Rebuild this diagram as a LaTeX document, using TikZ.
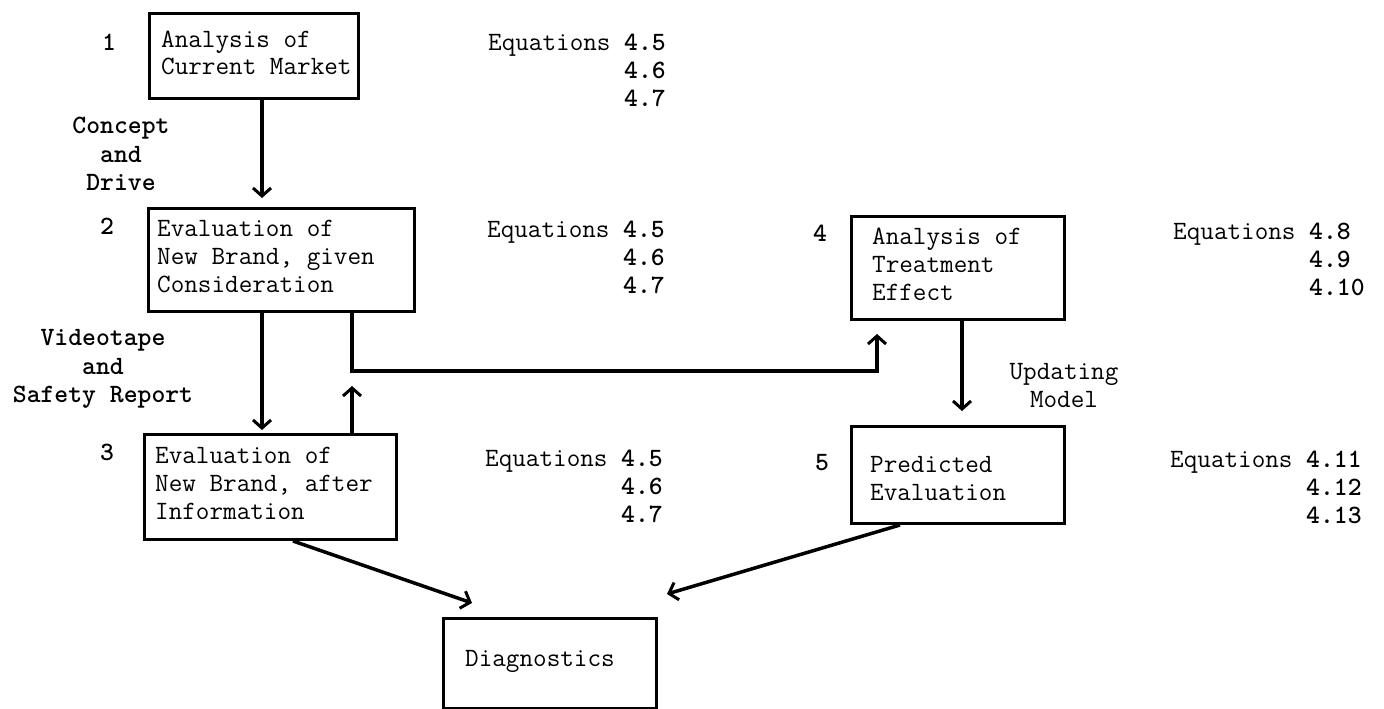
\documentclass[tikz,border=0pt]{standalone}
\usepackage{fontspec}
\usetikzlibrary{arrows.meta}
\begin{document}
\begin{tikzpicture}[x=1pt,y=-1pt,
  every node/.style={font=\ttfamily\fontsize{26.4}{28}\selectfont, inner sep=0pt},
  box/.style={draw, line width=3pt, rectangle, anchor=north west},
  txt/.style={anchor=west, align=left},
  lbl/.style={align=center, font=\ttfamily\bfseries\fontsize{26.4}{28.5}\selectfont},
  num/.style={font=\ttfamily\bfseries\fontsize{26.4}{28}\selectfont},
  eqn/.style={anchor=west, align=left},
  arr/.style={line width=3.5pt, -{Straight Barb[length=8pt,width=18pt,line width=3pt]}},
  ln/.style={line width=3.5pt}]
\useasboundingbox (0,0) rectangle (1384,709);
% boxes
\node[box, minimum width=209pt, minimum height=85pt] (b1) at (148,12) {};
\node[box, minimum width=266pt, minimum height=103pt] (b2) at (147,207) {};
\node[box, minimum width=252pt, minimum height=105pt] (b3) at (143,433) {};
\node[box, minimum width=213pt, minimum height=103pt] (b4) at (850,215) {};
\node[box, minimum width=213pt, minimum height=97pt] (b5) at (850,425) {};
\node[box, minimum width=213pt, minimum height=90pt] (d) at (442,617) {};
% box texts
\node[txt, font=\ttfamily\fontsize{26.4}{26.5}\selectfont] (b1t) at ([xshift=13pt,yshift=3pt]b1.west) {Analysis of\\Current Market};
\node[txt] (b2t) at ([xshift=10pt,yshift=3pt]b2.west) {Evaluation of\\New Brand, given\\Consideration};
\node[txt] (b3t) at ([xshift=12pt,yshift=4pt]b3.west) {Evaluation of\\New Brand, after\\Information};
\node[txt] (b4t) at ([xshift=22pt,yshift=4pt]b4.west) {Analysis of\\Treatment\\Effect};
\node[txt] (b5t) at ([xshift=20pt,yshift=-4pt]b5.west) {Predicted\\Evaluation};
\node[txt] (dt) at ([xshift=23pt,yshift=2pt]d.west) {Diagnostics};
% numbers
\node[num] (n1) at (109,42) {1};
\node[num] (n2) at (107,226) {2};
\node[num] (n3) at (107,452) {3};
\node[num] (n4) at (820,233) {4};
\node[num] (n5) at (822,463) {5};
% labels
\node[lbl] (l1) at (121,154) {Concept\\and\\Drive};
\node[lbl] (l2) at (103,369) {Videotape\\and\\Safety Report};
\node[align=center] (l3) at (1064,386) {Updating\\Model};
% equations
\node[eqn] (e1) at (488,73) {Equations \textbf{4.5}\\\phantom{Equations }\textbf{4.6}\\\phantom{Equations }\textbf{4.7}};
\node[eqn] (e2) at (487,260) {Equations \textbf{4.5}\\\phantom{Equations }\textbf{4.6}\\\phantom{Equations }\textbf{4.7}};
\node[eqn] (e3) at (485,489) {Equations \textbf{4.5}\\\phantom{Equations }\textbf{4.6}\\\phantom{Equations }\textbf{4.7}};
\node[eqn] (e4) at (1173,262) {Equations \textbf{4.8}\\\phantom{Equations }\textbf{4.9}\\\phantom{Equations }\textbf{4.10}};
\node[eqn] (e5) at (1170,490) {Equations \textbf{4.11}\\\phantom{Equations }\textbf{4.12}\\\phantom{Equations }\textbf{4.13}};
% coordinates
\coordinate (j1) at (352,371);
\coordinate (j2) at (877,371);
\coordinate (j3) at (352,386);
\coordinate (t1) at (472,603);
\coordinate (t2) at (667,594);
% connectors
\draw[arr, shorten >=9pt] (b1.south -| 262,0) -- (b2.north -| 262,0);
\draw[arr, shorten >=3pt] (b2.south -| 262,0) -- (b3.north -| 262,0);
\draw[arr, shorten >=13pt] (b2.south -| j1) -- (j1) -- (j2) -- (b4.south -| j2);
\draw[arr] (b3.north -| j3) -- (j3);
\draw[arr, shorten >=14pt] (b4.south -| 962,0) -- (b5.north -| 962,0);
\draw[arr] (b3.south -| 293,0) -- (t1);
\draw[arr] (b5.south -| 900,0) -- (t2);
\end{tikzpicture}
\end{document}
